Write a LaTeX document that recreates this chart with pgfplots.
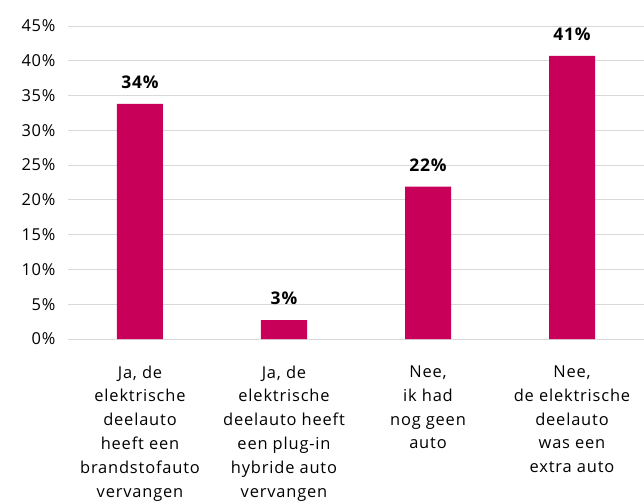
\documentclass[border=0pt]{standalone}
\usepackage{pgfplots}
\pgfplotsset{compat=1.18}
\usepackage{fontspec}
\setmainfont[LetterSpace=5]{Open Sans}
\definecolor{barc}{RGB}{200,0,90}
\definecolor{gridc}{RGB}{217,217,217}
\begin{document}
\begin{tikzpicture}
\useasboundingbox (-68bp,-162bp) rectangle (576bp,339bp);
\begin{axis}[
  scale only axis,
  width=576bp, height=313bp,
  ymin=0, ymax=45,
  xmin=-0.5, xmax=3.5,
  ytick={0,5,...,45},
  yticklabel={\pgfmathprintnumber{\tick}\%},
  /pgf/number format/assume math mode=true,
  xtick={0,1,2,3},
  xticklabels={{Ja, de\\elektrische\\deelauto\\heeft een\\brandstofauto\\vervangen},
               {Ja, de\\elektrische\\deelauto heeft\\een plug-in\\hybride auto\\vervangen},
               {Nee,\\ik had\\nog geen\\auto},
               {Nee,\\de elektrische\\deelauto\\was een\\extra auto}},
  xticklabel style={align=center, font=\fontsize{16.5}{24}\selectfont, anchor=north, yshift=-23bp},
  yticklabel style={font=\fontsize{16.5}{18}\selectfont, xshift=-9bp},
  axis line style={draw=none},
  major tick length=0pt,
  ymajorgrids,
  grid style={gridc, line width=1bp},
  ybar,
  bar width=46bp,
  clip=false,
  nodes near coords,
  point meta=explicit symbolic,
  nodes near coords style={font=\bfseries\fontsize{17.5}{18}\selectfont, anchor=south, yshift=12bp},
]
\addplot[fill=barc, draw=none] table[meta=lab] {
x y lab
0 33.8 34\%
1 2.7 3\%
2 21.9 22\%
3 40.7 41\%
};
\end{axis}
\end{tikzpicture}
\end{document}
